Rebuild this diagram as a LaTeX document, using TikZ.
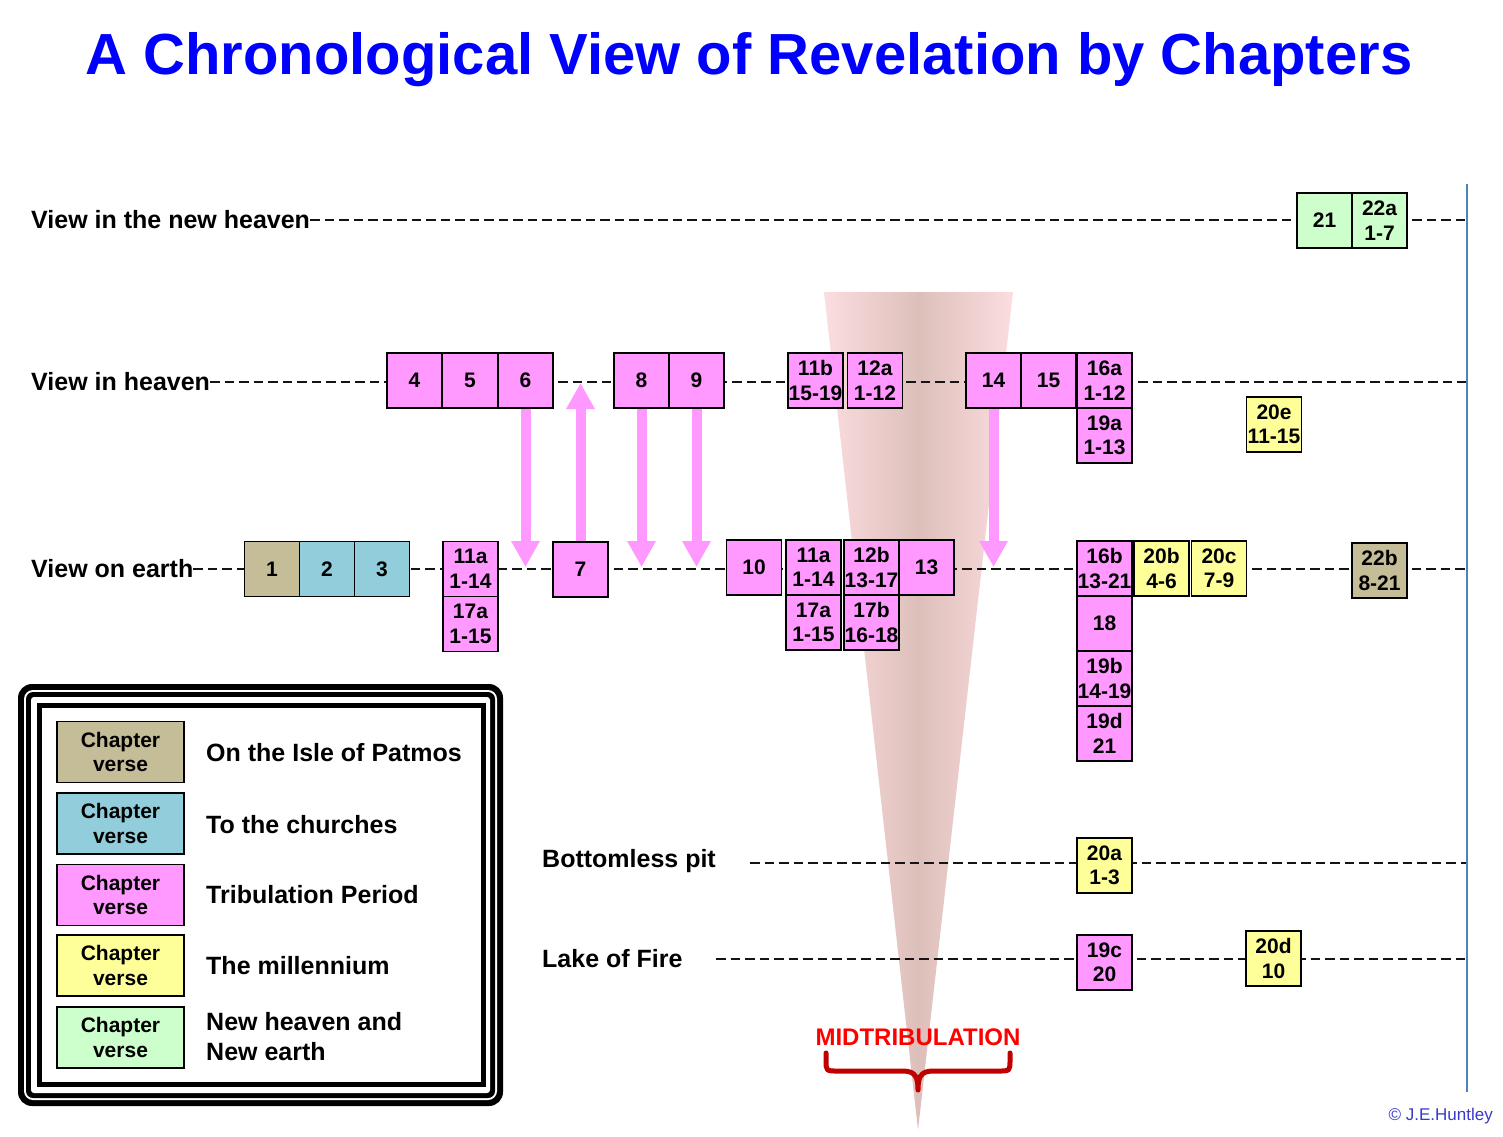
\documentclass[tikz,border=0pt]{standalone}
\usepackage{fontspec}
\setmainfont{Liberation Sans}
\usetikzlibrary{arrows.meta}
\definecolor{cPink}{HTML}{FF99FF}
\definecolor{cTan}{HTML}{C4BD97}
\definecolor{cBlue}{HTML}{92CDDC}
\definecolor{cYel}{HTML}{FFFF99}
\definecolor{cGrn}{HTML}{CCFFCC}
\definecolor{coneL}{HTML}{FCDDE0}
\definecolor{coneD}{HTML}{DDBFBA}
\definecolor{vblue}{HTML}{4F81BD}
\definecolor{brRed}{HTML}{C00000}
\definecolor{cpBlue}{HTML}{3838CC}
\tikzset{
  box/.style={draw=black, line width=1.3pt, minimum width=55pt, minimum height=55pt, inner sep=0pt, align=center, font=\fontsize{21}{24.5}\selectfont\bfseries},
  rowlabel/.style={anchor=west, inner sep=0pt, font=\fontsize{25}{30}\selectfont\bfseries},
  dline/.style={line width=2.7pt, dash pattern=on 9.5pt off 5pt, color=black!92},
  parrow/.style={draw=cPink, line width=10pt, -{Triangle[width=27pt,length=26pt]}},
  lgbox/.style={box, minimum width=127pt, minimum height=61pt},
}
\begin{document}
\begin{tikzpicture}[x=1pt,y=-1pt]
\useasboundingbox (0,0) rectangle (1503,1136);
% title
\node[inner sep=0pt, text=blue, font=\fontsize{58}{64}\selectfont\bfseries] (title) at (749,60) {A Chronological View of Revelation by Chapters};
% cone
\shade[left color=coneL, right color=coneL, middle color=coneD] (824,292) -- (1013,292) -- (918,1130) -- cycle;
% row labels
\node[rowlabel] (lnew) at (31,220) {View in the new heaven};
\node[rowlabel] (lheaven) at (31,382) {View in heaven};
\node[rowlabel] (learth) at (31,569) {View on earth};
\node[rowlabel] (lpit) at (542,861) {Bottomless pit};
\node[rowlabel] (lfire) at (542,959) {Lake of Fire};
% vertical line
\coordinate (vtop) at (1467,184);
\coordinate (vbot) at (1467,1092);
\coordinate (pitS) at (750,863);
\coordinate (fireS) at (716,959);
% dashed lines
\draw[dline] (lnew.east) -- (lnew.east -| vtop);
\draw[dline] (lheaven.east) -- (lheaven.east -| vtop);
\draw[dline] (learth.east) -- (learth.east -| vtop);
\draw[dline] (pitS) -- (pitS -| vtop);
\draw[dline] (fireS) -- (fireS -| vtop);
\draw[vblue, line width=2pt] (vtop) -- (vbot);
% row 1
\node[box, fill=cGrn] (b21) at (1324.5,220.5) {21};
\node[box, fill=cGrn] (b22a) at (1379.5,220.5) {22a\\1-7};
% row 2
\node[box, fill=cPink] (b4) at (414.5,380.5) {4};
\node[box, fill=cPink] (b5) at (470,380.5) {5};
\node[box, fill=cPink] (b6) at (525.5,380.5) {6};
\node[box, fill=cPink] (b8) at (641.5,380.5) {8};
\node[box, fill=cPink] (b9) at (696.5,380.5) {9};
\node[box, fill=cPink] (b11b) at (815.5,380.5) {11b\\15-19};
\node[box, fill=cPink] (b12a) at (875,380.5) {12a\\1-12};
\node[box, fill=cPink] (b14) at (993.5,380.5) {14};
\node[box, fill=cPink] (b15) at (1048.5,380.5) {15};
\node[box, fill=cPink] (b16a) at (1104.5,380.5) {16a\\1-12};
\node[box, fill=cPink] (b19a) at (1104.5,435.5) {19a\\1-13};
\node[box, fill=cYel] (b20e) at (1274,424.5) {20e\\11-15};
% row 3
\node[box, fill=cTan] (b1) at (272,569) {1};
\node[box, fill=cBlue] (b2) at (327,569) {2};
\node[box, fill=cBlue] (b3) at (382,569) {3};
\node[box, fill=cPink] (b11a) at (470.5,569) {11a\\1-14};
\node[box, fill=cPink] (b17a) at (470.5,624) {17a\\1-15};
\node[box, fill=cPink] (b7) at (580.5,569.5) {7};
\node[box, fill=cPink] (b10) at (754,567.5) {10};
\node[box, fill=cPink] (b11ab) at (813.5,567.5) {11a\\1-14};
\node[box, fill=cPink] (b17ab) at (813.5,622.5) {17a\\1-15};
\node[box, fill=cPink] (b12b) at (871.5,567.5) {12b\\13-17};
\node[box, fill=cPink] (b17b) at (871.5,622.5) {17b\\16-18};
\node[box, fill=cPink] (b13) at (926.5,567.5) {13};
\node[box, fill=cPink] (b16b) at (1104.5,568.5) {16b\\13-21};
\node[box, fill=cPink] (b18) at (1104.5,623.5) {18};
\node[box, fill=cPink] (b19b) at (1104.5,678.5) {19b\\14-19};
\node[box, fill=cPink] (b19d) at (1104.5,733.5) {19d\\21};
\node[box, fill=cYel] (b20b) at (1161.5,568.5) {20b\\4-6};
\node[box, fill=cYel] (b20c) at (1219,568.5) {20c\\7-9};
\node[box, fill=cTan] (b22b) at (1379.5,570.5) {22b\\8-21};
% rows 4,5
\node[box, fill=cYel] (b20a) at (1104.5,865.5) {20a\\1-3};
\node[box, fill=cPink] (b19c) at (1104.5,962.5) {19c\\20};
\node[box, fill=cYel] (b20d) at (1273.5,958.5) {20d\\10};
% arrows
\coordinate (t6) at (525.5,567);
\coordinate (t7) at (580.5,383);
\coordinate (t8) at (641.5,567);
\coordinate (t9) at (696.5,567);
\coordinate (t14) at (993.5,567);
\draw[parrow] (b6.south) -- (t6);
\draw[parrow] (b7.north) -- (t7);
\draw[parrow] (b8.south) -- (t8);
\draw[parrow] (b9.south) -- (t9);
\draw[parrow] (b14.south) -- (t14);
% legend frame
\fill[black, rounded corners=14pt] (18,684) rectangle (503,1106);
\fill[white, rounded corners=9pt] (24,690) rectangle (497,1100);
\fill[black, rounded corners=7pt] (26,692) rectangle (495,1098);
\fill[white, rounded corners=3pt] (31,697) rectangle (490,1093);
\fill[black] (37,703) rectangle (486,1087);
\fill[white] (42,708) rectangle (481,1082);
% legend entries
\node[lgbox, fill=cTan] (g1) at (120.5,752) {Chapter\\verse};
\node[lgbox, fill=cBlue] (g2) at (120.5,823.5) {Chapter\\verse};
\node[lgbox, fill=cPink] (g3) at (120.5,895) {Chapter\\verse};
\node[lgbox, fill=cYel] (g4) at (120.5,965.5) {Chapter\\verse};
\node[lgbox, fill=cGrn] (g5) at (120.5,1037.5) {Chapter\\verse};
\node[rowlabel] (k1) at (206,753) {On the Isle of Patmos};
\node[rowlabel] (k2) at (206,825) {To the churches};
\node[rowlabel] (k3) at (206,895) {Tribulation Period};
\node[rowlabel] (k4) at (206,966) {The millennium};
\node[rowlabel, align=left] (k5) at (206,1037) {New heaven and\\New earth};
% midtribulation
\node[inner sep=0pt, text=red, font=\fontsize{24}{28}\selectfont\bfseries] (mid) at (918,1037) {MIDTRIBULATION};
\draw[brRed, line width=5pt, line cap=round, line join=round]
  (826,1053) -- (826,1060) .. controls (826,1071) .. (838,1071) -- (903,1071)
  .. controls (916,1071) and (918,1078) .. (918,1090)
  .. controls (918,1078) and (920,1071) .. (933,1071) -- (998,1071)
  .. controls (1010,1071) .. (1010,1060) -- (1010,1053);
% copyright
\node[anchor=east, inner sep=0pt, text=cpBlue, font=\fontsize{17}{19}\selectfont] (copy) at (1493,1116) {© J.E.Huntley};
\end{tikzpicture}
\end{document}
